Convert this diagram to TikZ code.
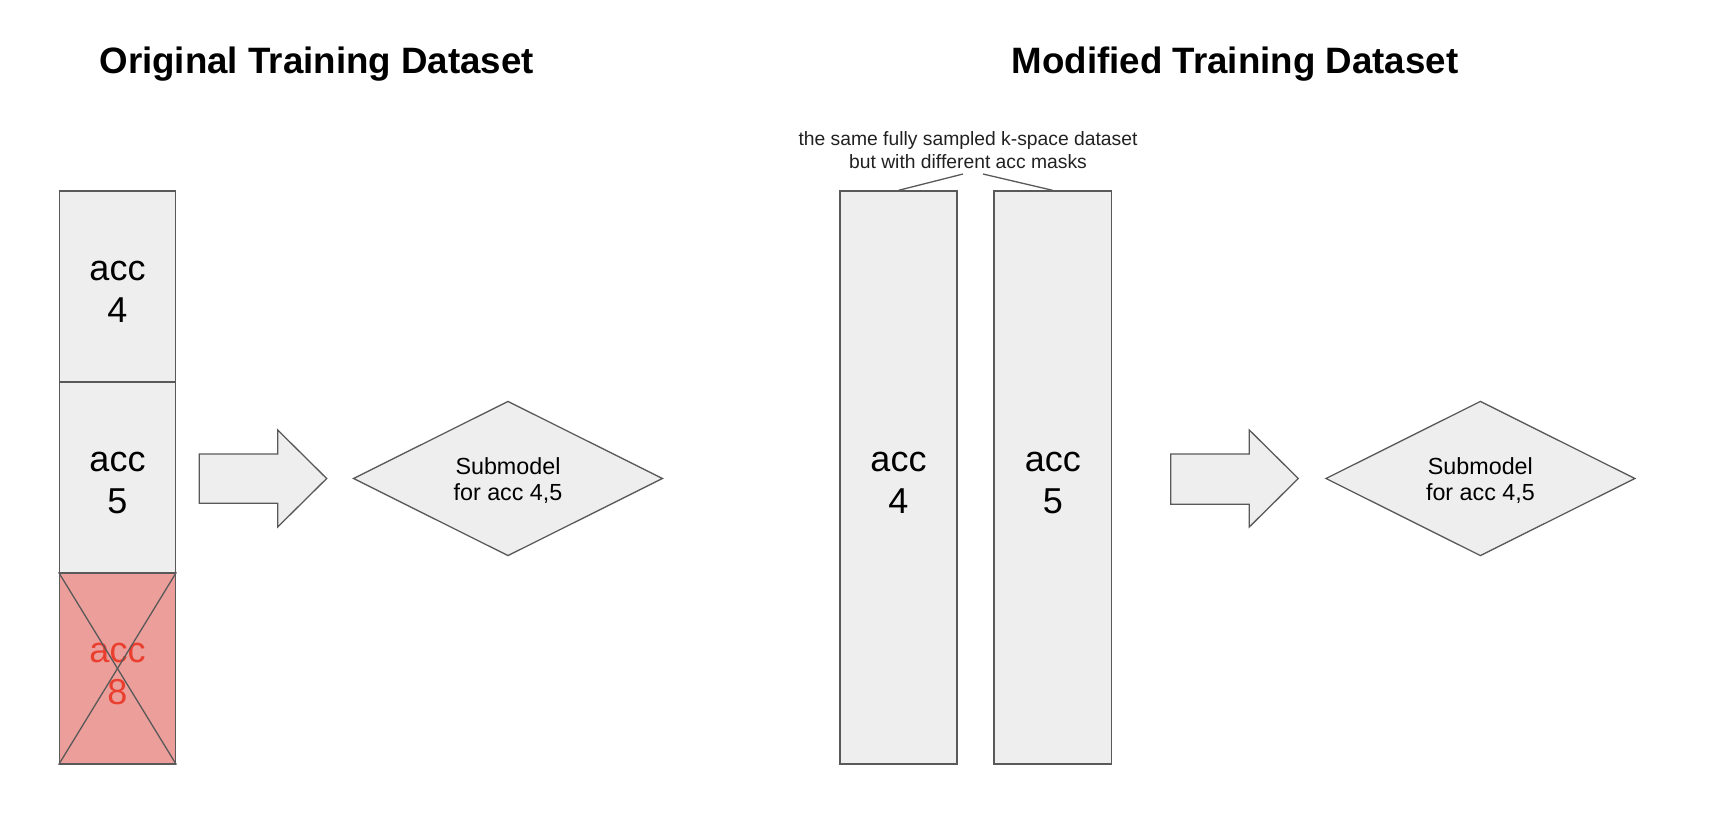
\documentclass[tikz,border=0pt]{standalone}
\usepackage{fontspec}
\setmainfont{Liberation Sans}
\usetikzlibrary{shapes.geometric}
\definecolor{edgegray}{RGB}{89,89,89}
\definecolor{boxfill}{RGB}{238,238,238}
\definecolor{redfill}{RGB}{236,158,154}
\definecolor{redtext}{RGB}{234,62,46}
\tikzset{
  cell/.style={draw=edgegray, fill=boxfill, line width=1.3pt, inner sep=0pt},
  redcell/.style={cell, fill=redfill},
  celltext/.style={align=center, inner sep=0pt, yshift=-5.5pt,
    font=\fontsize{36}{42}\selectfont},
  redtextstyle/.style={celltext, text=redtext},
  model/.style={diamond, aspect=2, draw=edgegray, fill=boxfill, line width=1.3pt, inner sep=0pt,
    minimum width=309.4pt, minimum height=154.7pt},
  modeltext/.style={align=center, inner sep=0pt, yshift=-2pt,
    font=\fontsize{23.3}{26.7}\selectfont},
  bigarrow/.style={draw=edgegray, fill=boxfill, line width=1.3pt, line join=miter},
  title/.style={font=\fontsize{36.7}{40}\selectfont\bfseries, anchor=base, inner sep=0pt},
  note/.style={font=\fontsize{19.3}{23}\selectfont, align=center, text=black!87, inner sep=0pt},
  link/.style={draw=edgegray, line width=1.3pt}
}
\begin{document}
\begin{tikzpicture}[x=1pt, y=-1pt]
\useasboundingbox (0,0) rectangle (1722,814);

% titles
\node[title] (t1) at (316.7,73) {Original Training Dataset};
\node[title] (t2) at (1235,73) {Modified Training Dataset};

% original stack
\node[cell, minimum width=116.4pt, minimum height=191pt,
  label={[celltext]center:{acc\\4}}] (a4) at (117.5,286.5) {};
\node[cell, minimum width=116.4pt, minimum height=191pt,
  label={[celltext]center:{acc\\5}}] (a5) at (117.5,477.5) {};
\node[redcell, minimum width=116.4pt, minimum height=191pt,
  label={[redtextstyle]center:{acc\\8}}] (a8) at (117.5,668.5) {};
\draw[link] (a8.north west) -- (a8.south east);
\draw[link] (a8.north east) -- (a8.south west);

% arrow 1
\draw[bigarrow] (199.3,454) -- (277.7,454) -- (277.7,430) -- (326.7,478.5)
  -- (277.7,527) -- (277.7,503.3) -- (199.3,503.3) -- cycle;

% model 1
\node[model, label={[modeltext]center:{Submodel\\for acc 4,5}}] (m1) at (508,478.5) {};

% modified columns
\node[cell, minimum width=117pt, minimum height=573pt,
  label={[celltext]center:{acc\\4}}] (b4) at (898.5,477.5) {};
\node[cell, minimum width=117.5pt, minimum height=573pt,
  label={[celltext]center:{acc\\5}}] (b5) at (1052.75,477.5) {};

% note
\node[note] (nt) at (968,150) {the same fully sampled k-space dataset\\but with different acc masks};
\coordinate (nl) at (963,174);
\coordinate (nr) at (983,174);
\draw[link] (b4.north) -- (nl);
\draw[link] (nr) -- (b5.north);

% arrow 2
\draw[bigarrow] (1170.7,454) -- (1249.3,454) -- (1249.3,430) -- (1298.3,478.5)
  -- (1249.3,527) -- (1249.3,504.3) -- (1170.7,504.3) -- cycle;

% model 2
\node[model, label={[modeltext]center:{Submodel\\for acc 4,5}}] (m2) at (1480.4,478.5) {};
\end{tikzpicture}
\end{document}
